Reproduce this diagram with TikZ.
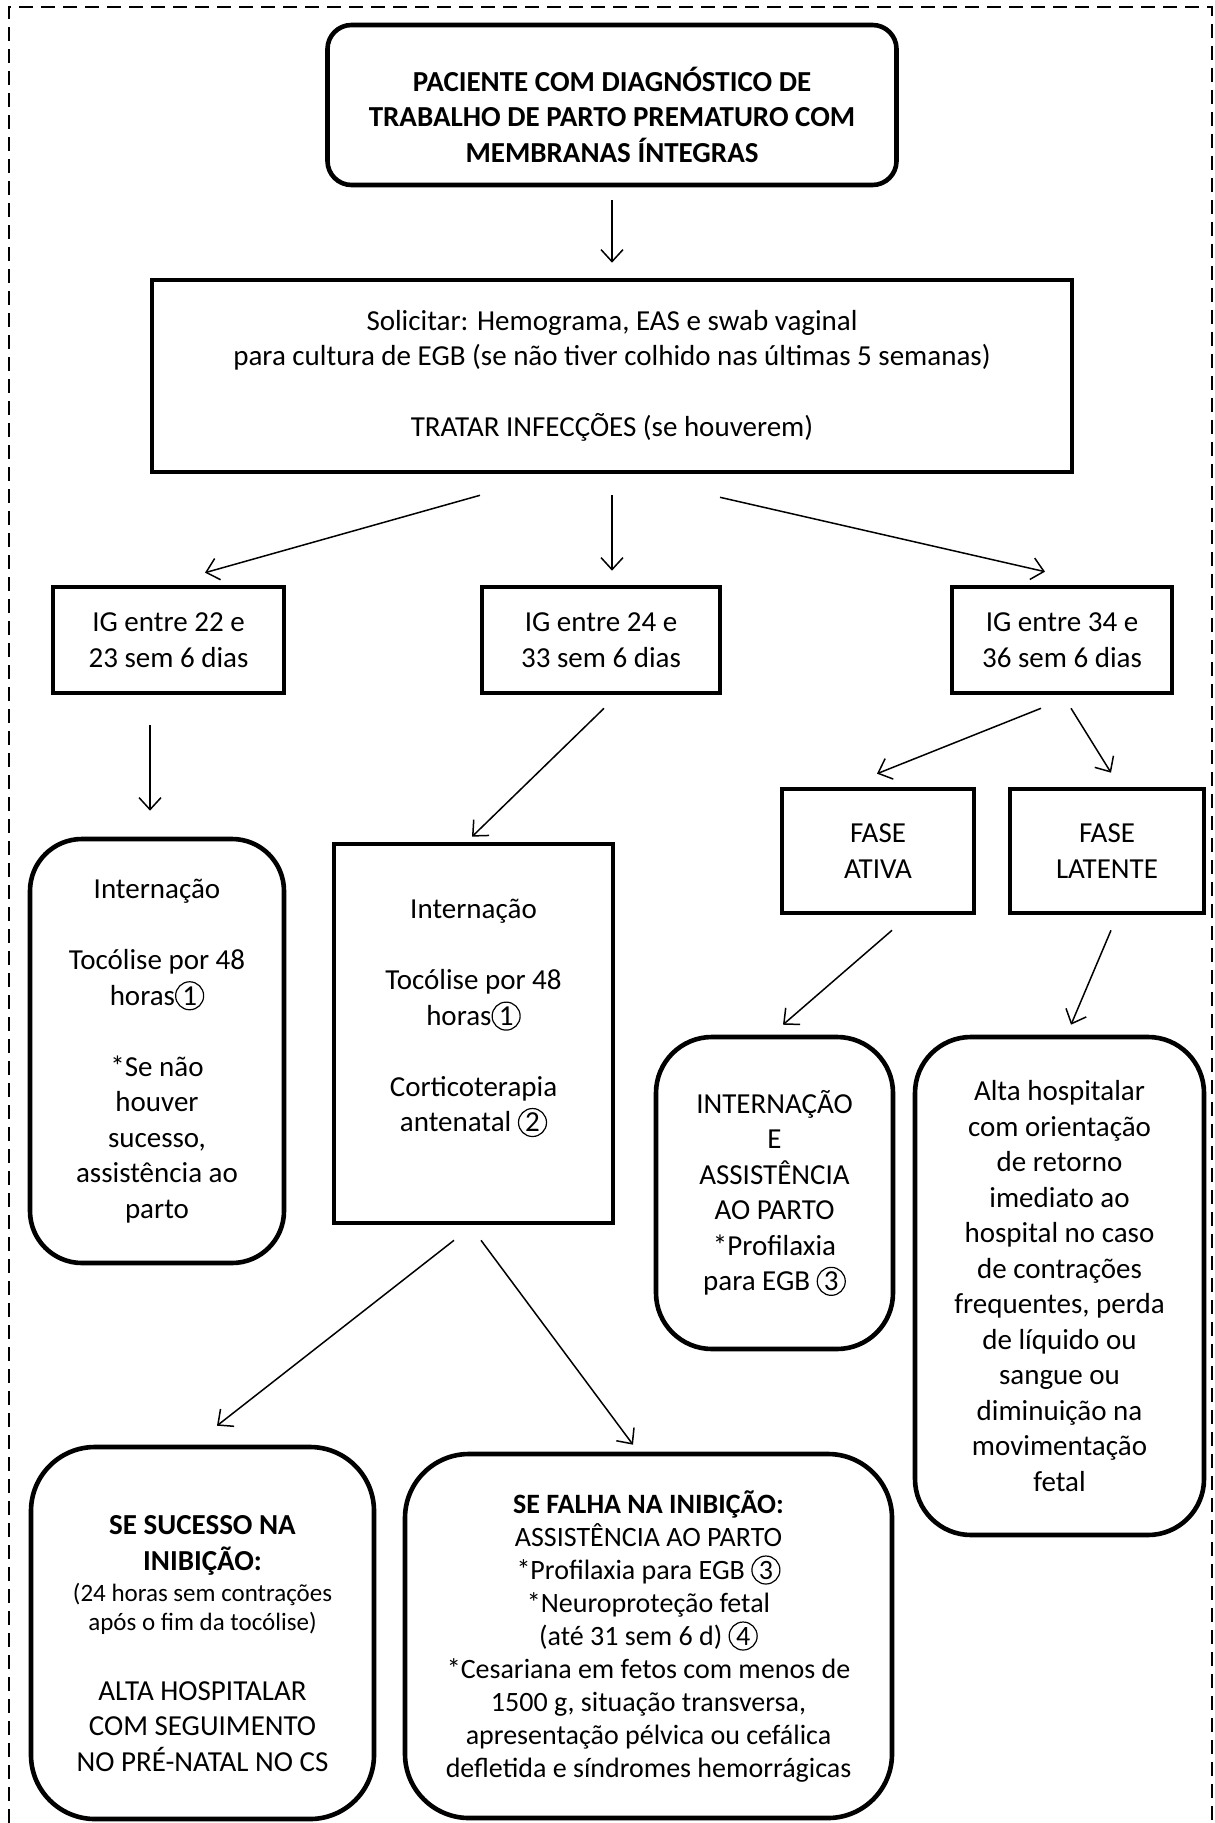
\documentclass[tikz,border=0pt]{standalone}
\usepackage{fontspec}
\setmainfont{Carlito}
\usetikzlibrary{arrows.meta,calc}
\newcommand{\cnum}[1]{\tikz[baseline=(n.base)]\node[draw, circle, line width=0.6pt, minimum size=14pt, inner sep=0pt] (n) {#1};}

\begin{document}
\begin{tikzpicture}[x=0.5pt, y=-0.5pt,
box/.style = {draw, line width=2.3pt, align=center, inner sep=0pt, font=\fontsize{14.5}{17.75}\selectfont},
roundbox/.style = {box, rounded corners=26pt},
arr/.style = {line width=0.75pt, -{Straight Barb[length=6pt,width=11pt]}},
frame/.style = {line width=1pt, dash pattern=on 7pt off 4pt}]
\useasboundingbox (0,0) rectangle (1214,1823);
% moldura tracejada
\draw[frame] (9,1823) -- (9,7) -- (1212,7) -- (1212,1823);

\node[roundbox, rounded corners=12pt, minimum width=284.5pt, minimum height=80pt, font=\fontsize{14.5}{17.75}\selectfont\bfseries] (top) at (612,105)
  {\rule{0pt}{22pt}PACIENTE COM DIAGNÓSTICO DE\\TRABALHO DE PARTO PREMATURO COM\\MEMBRANAS ÍNTEGRAS};
\node[box, minimum width=460pt, minimum height=96pt] (solic) at (612,376)
  {Solicitar: Hemograma, EAS e swab vaginal\\para cultura de EGB (se não tiver colhido nas últimas 5 semanas)\\[17.75pt]TRATAR INFECÇÕES (se houverem)};

\node[box, minimum width=115.5pt, minimum height=53pt] (ig22) at (168.5,640) {IG entre 22 e\\23 sem 6 dias};
\node[box, minimum width=119pt, minimum height=53pt] (ig24) at (601,640) {IG entre 24 e\\33 sem 6 dias};
\node[box, minimum width=110pt, minimum height=53pt] (ig34) at (1062,640) {IG entre 34 e\\36 sem 6 dias};

\node[roundbox, minimum width=127pt, minimum height=212pt] (int1) at (157,1051)
  {Internação\\[17.75pt]Tocólise por 48\\horas\cnum{1}\\[17.75pt]*Se não\\houver\\sucesso,\\assistência ao\\parto};
\node[box, minimum width=139.5pt, minimum height=189.5pt] (int2) at (473.5,1033.5)
  {Internação\\[17.75pt]Tocólise por 48\\horas\cnum{1}\\[17.75pt]Corticoterapia\\antenatal \cnum{2}\\~};

\node[box, minimum width=96pt, minimum height=62pt] (ativa) at (878,851) {FASE\\ATIVA};
\node[box, minimum width=97pt, minimum height=62pt] (latente) at (1107,851) {FASE\\LATENTE};

\node[roundbox, rounded corners=28pt, minimum width=118.5pt, minimum height=156pt] (intparto) at (774.5,1193)
  {INTERNAÇÃO\\E\\ASSISTÊNCIA\\AO PARTO\\*Profilaxia\\para EGB \cnum{3}};
\node[roundbox, rounded corners=28pt, minimum width=144.5pt, minimum height=249pt] (alta) at (1059.5,1286)
  {Alta hospitalar\\com orientação\\de retorno\\imediato ao\\hospital no caso\\de contrações\\frequentes, perda\\de líquido ou\\sangue ou\\diminuição na\\movimentação\\fetal};

\node[roundbox, rounded corners=32pt, minimum width=171.5pt, minimum height=186pt] (sucesso) at (202.5,1633)
  {\rule{0pt}{20pt}\textbf{SE SUCESSO NA}\\\textbf{INIBIÇÃO:}\\[-2.25pt]{\fontsize{12.5}{14.5}\selectfont (24 horas sem contrações}\\[-3.25pt]{\fontsize{12.5}{14.5}\selectfont após o fim da tocólise)}\\[17.25pt]ALTA HOSPITALAR\\COM SEGUIMENTO\\NO PRÉ-NATAL NO CS};
\node[roundbox, rounded corners=32pt, minimum width=243.5pt, minimum height=182pt, font=\fontsize{14}{16.5}\selectfont] (falha) at (648.5,1636)
  {\textbf{SE FALHA NA INIBIÇÃO:}\\ASSISTÊNCIA AO PARTO\\*Profilaxia para EGB \cnum{3}\\*Neuroproteção fetal\\(até 31 sem 6 d) \cnum{4}\\*Cesariana em fetos com menos de\\1500 g, situação transversa,\\apresentação pélvica ou cefálica\\defletida e síndromes hemorrágicas};

% setas
\draw[arr] ($(top.south)+(0,13)$) -- ($(solic.north)+(0,-15)$);
\draw[arr] ($(solic.south)+(-132,21)$) -- ($(ig22.north)+(36.5,-12)$);
\draw[arr] ($(solic.south)+(0,21)$) -- ($(ig24.north)+(11,-14)$);
\draw[arr] ($(solic.south)+(108,23)$) -- ($(ig34.north)+(-17,-13)$);
\draw[arr] ($(ig22.south)+(-18.5,30)$) -- ($(int1.north)+(-7,-26)$);
\draw[arr] ($(ig24.south)+(3,13)$) -- ($(int2.north)+(-1.5,-5)$);
\draw[arr] ($(ig34.south)+(-21,13)$) -- ($(ativa.north)+(-1,-13)$);
\draw[arr] ($(ig34.south)+(9,13)$) -- ($(latente.north)+(4,-14)$);
\draw[arr] ($(ativa.south)+(14,15)$) -- ($(intparto.north)+(8.5,-10)$);
\draw[arr] ($(latente.south)+(4,15)$) -- ($(alta.north)+(11.5,-10)$);
\draw[arr] ($(int2.south)+(-19.5,15)$) -- ($(sucesso.north)+(14.5,-19)$);
\draw[arr] ($(int2.south)+(7.5,15)$) -- ($(falha.north)+(-15.5,-7)$);
\end{tikzpicture}
\end{document}
